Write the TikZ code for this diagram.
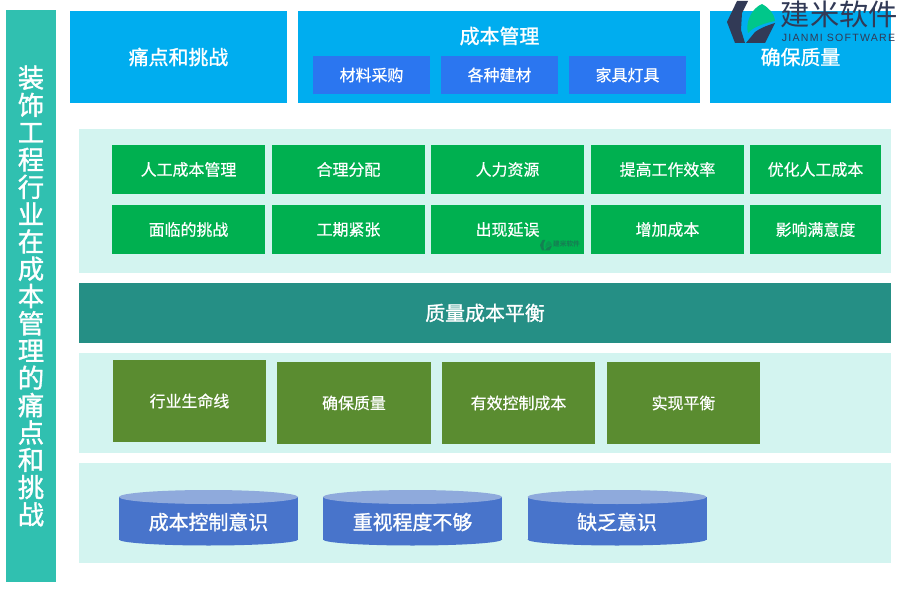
\documentclass[tikz,border=0pt]{standalone}
\usepackage{fontspec}
\setmainfont{Noto Sans CJK SC}
\newfontfamily\heavyfont[FakeBold=1.2]{Noto Sans CJK SC}
\newfontfamily\midfont[FakeBold=0.5]{Noto Sans CJK SC}
\newfontfamily\logofont[LetterSpace=12]{Liberation Sans}
\def\px{0.03cm}
\definecolor{topblue}{HTML}{00ADEF}
\definecolor{innerblue}{HTML}{2B76F0}
\definecolor{leftteal}{HTML}{30C0B0}
\definecolor{panelmint}{HTML}{D3F4F0}
\definecolor{cardgreen}{HTML}{00B050}
\definecolor{bandteal}{HTML}{258F85}
\definecolor{cardolive}{HTML}{5A8C30}
\definecolor{cylbody}{HTML}{4874CB}
\definecolor{cyltop}{HTML}{8FAADC}
\definecolor{logodark}{HTML}{323A56}
\definecolor{logogreen}{HTML}{00C78A}
\newcommand{\logoshapes}[1]{
  \fill[logodark] (727,22) -- (737,1) -- (748,1) -- (742,13) -- (741,30) -- (745,43) -- (735,43) -- cycle;
  \fill[#1] (762,4) .. controls (769,8) and (774,13) .. (775,21) .. controls (765,23) and (753,27) .. (748,33) .. controls (745,22) and (752,8) .. (762,4) -- cycle;
  \fill[logodark] (746,43) -- (755,32) .. controls (762,27) and (769,25) .. (775,23) -- (765,43) -- cycle;
}
\tikzset{
  box/.style={inner sep=0pt,outer sep=0pt,text=white,align=center},
  topbox/.style={box,fill=topblue,font=\heavyfont\fontsize{17}{20}\selectfont},
  subbox/.style={box,fill=innerblue,minimum width=117*\px,minimum height=38*\px,font=\midfont\fontsize{13.6}{16}\selectfont},
  panel/.style={box,fill=panelmint,minimum width=812*\px,minimum height=100*\px},
  greenbox/.style={box,fill=cardgreen,minimum width=153*\px,minimum height=49*\px,font=\midfont\fontsize{13.6}{16}\selectfont},
  olivebox/.style={box,fill=cardolive,minimum width=153*\px,minimum height=82*\px,font=\midfont\fontsize{13.6}{16}\selectfont},
  cyltext/.style={box,font=\heavyfont\fontsize{17}{20}\selectfont},
}
\begin{document}
\begin{tikzpicture}[x=0.03cm,y=-0.03cm]
\useasboundingbox[fill=white] (0,0) rectangle (900,600);
% left title
\node[box,fill=leftteal,minimum width=50*\px,minimum height=572*\px,font=\heavyfont\fontsize{22.5}{23.3}\selectfont] (title) at (31,296)
  {装\\饰\\工\\程\\行\\业\\在\\成\\本\\管\\理\\的\\痛\\点\\和\\挑\\战};
% top row
\node[topbox,minimum width=217*\px,minimum height=92*\px] (pain) at (178.5,57) {痛点和挑战};
\node[topbox,minimum width=402*\px,minimum height=92*\px] (cost) at (499,57) {};
\node[box,font=\heavyfont\fontsize{17}{20}\selectfont] (costlabel) at (499.5,36) {成本管理};
\node[subbox] (material) at (371.5,75) {材料采购};
\node[subbox] (building) at (499.5,75) {各种建材};
\node[subbox] (furniture) at (627.5,75) {家具灯具};
\node[topbox,minimum width=181*\px,minimum height=92*\px] (quality) at (800.5,57) {确保质量};
% green panel
\node[panel,minimum height=144*\px] (panelA) at (485,201) {};
\node[greenbox] (a1) at (188.5,169.5) {人工成本管理};
\node[greenbox] (a2) at (348.5,169.5) {合理分配};
\node[greenbox] (a3) at (507.5,169.5) {人力资源};
\node[greenbox] (a4) at (667.5,169.5) {提高工作效率};
\node[greenbox,minimum width=131*\px] (a5) at (815.5,169.5) {优化人工成本};
\node[greenbox] (b1) at (188.5,229.5) {面临的挑战};
\node[greenbox] (b2) at (348.5,229.5) {工期紧张};
\node[greenbox] (b3) at (507.5,229.5) {出现延误};
\node[greenbox] (b4) at (667.5,229.5) {增加成本};
\node[greenbox,minimum width=131*\px] (b5) at (815.5,229.5) {影响满意度};
% faint mark
\begin{scope}[opacity=0.4,shift={(540,240)},scale=0.25,shift={(-727,-1)}]
\logoshapes{logodark!50!cardgreen}
\end{scope}
\node[box,text=logodark,opacity=0.4,font=\bfseries\fontsize{5.7}{6}\selectfont] (markname) at (566.5,244) {建米软件};
% band
\node[box,fill=bandteal,minimum width=812*\px,minimum height=60*\px,font=\heavyfont\fontsize{17}{20}\selectfont] (balance) at (485,313) {质量成本平衡};
% olive panel
\node[panel] (panelB) at (485,403) {};
\node[olivebox] (c1) at (189.5,401) {行业生命线};
\node[olivebox,minimum width=154*\px] (c2) at (354,403) {确保质量};
\node[olivebox] (c3) at (518.5,403) {有效控制成本};
\node[olivebox] (c4) at (683.5,403) {实现平衡};
% drums
\node[panel] (panelC) at (485,513) {};
\foreach \cx/\nm/\txt in {208.5/d1/成本控制意识,412.5/d2/重视程度不够,617/d3/缺乏意识}{
  \fill[cylbody] (\cx,539.5) ellipse [x radius=89.5,y radius=6];
  \fill[cylbody] (\cx-89.5,497) rectangle (\cx+89.5,539.5);
  \fill[cyltop] (\cx,497) ellipse [x radius=89.5,y radius=7];
  \node[cyltext] (\nm) at (\cx,522) {\txt};
}
% logo
\logoshapes{logogreen}
\node[box,text=logodark,font=\fontsize{25}{27}\selectfont] (logoname) at (839.5,14) {建米软件};
\node[box,text=logodark,font=\logofont\fontsize{9}{11}\selectfont] (logosub) at (838.5,38) {JIANMI SOFTWARE};
\end{tikzpicture}
\end{document}
